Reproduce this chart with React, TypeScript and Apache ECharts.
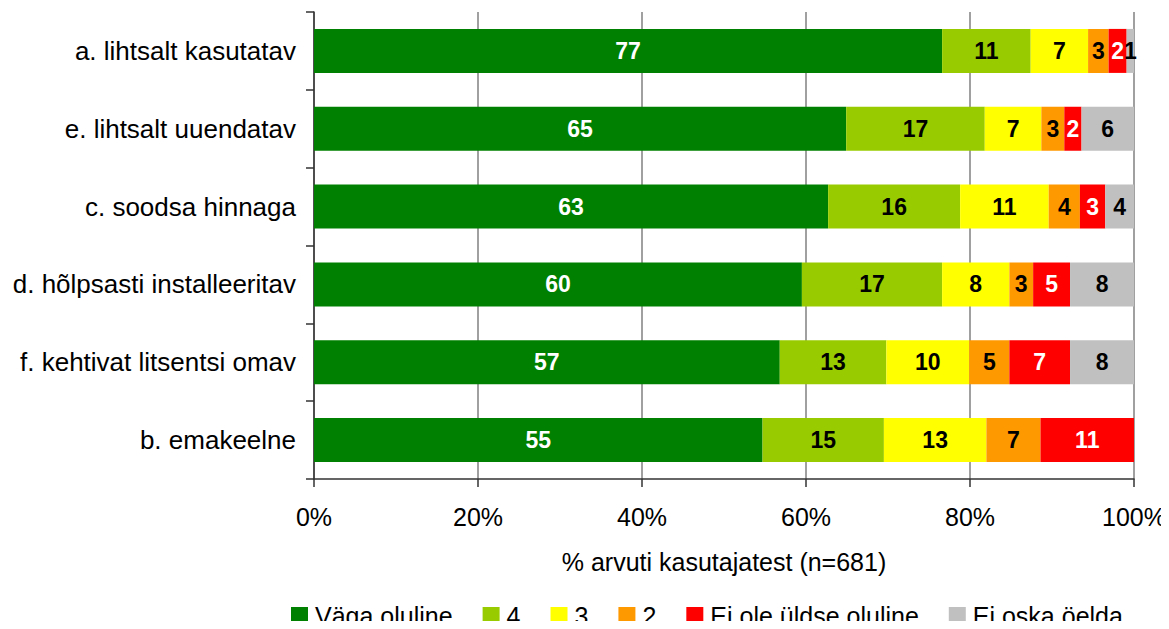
import React, { useEffect, useRef } from "react";
import * as echarts from "echarts";

const categories = [
  "a. lihtsalt kasutatav",
  "e. lihtsalt uuendatav",
  "c. soodsa hinnaga",
  "d. hõlpsasti installeeritav",
  "f. kehtivat litsentsi omav",
  "b. emakeelne",
];

const seriesNames = ["Väga oluline", "4", "3", "2", "Ei ole üldse oluline", "Ei oska öelda"];
const seriesColors = ["#008000", "#99CC00", "#FFFF00", "#FF9900", "#FF0000", "#C0C0C0"];
const labelColors = ["#FFFFFF", "#000000", "#000000", "#000000", "#FFFFFF", "#000000"];

const vagaOluline = [76.6, 64.9, 62.7, 59.5, 56.8, 54.7];
const hinne4 = [10.8, 16.9, 16.1, 17.1, 13.0, 14.8];
const hinne3 = [7.0, 6.9, 10.8, 8.2, 10.1, 12.5];
const hinne2 = [2.5, 2.8, 3.8, 2.9, 4.9, 6.6];
const eiOleOluline = [2.2, 2.1, 3.1, 4.5, 7.4, 11.4];
const eiOskaOelda = [0.9, 6.4, 3.5, 7.8, 7.8, 0];

const seriesValues = [vagaOluline, hinne4, hinne3, hinne2, eiOleOluline, eiOskaOelda];

const xTicks = [0, 20, 40, 60, 80, 100];

const FONT = "'Liberation Sans', Arial, Helvetica, sans-serif";

export default function App() {
  const ref = useRef<HTMLDivElement>(null);

  useEffect(() => {
    if (!ref.current) return;
    const chart = echarts.init(ref.current, null, { renderer: "svg" });
    chart.setOption({
      animation: false,
      textStyle: { fontFamily: FONT },
      grid: { left: 314, right: 35, top: 12, bottom: 150, containLabel: false },
      legend: {
        left: 291,
        top: 603,
        padding: 0,
        itemGap: 30,
        itemWidth: 17,
        itemHeight: 17,
        icon: "rect",
        textStyle: { fontSize: 25, color: "#000", fontFamily: FONT, padding: [0, 0, 0, 2] },
        data: seriesNames,
      },
      xAxis: {
        type: "value",
        min: xTicks[0],
        max: xTicks[xTicks.length - 1],
        interval: 20,
        name: "% arvuti kasutajatest (n=681)",
        nameLocation: "middle",
        nameGap: 70,
        nameTextStyle: { fontSize: 25, color: "#000", fontFamily: FONT },
        axisLine: { show: true, lineStyle: { color: "#333", width: 1.5 } },
        axisTick: { show: true, length: 8, lineStyle: { color: "#333", width: 1.5 } },
        axisLabel: {
          formatter: "{value}%",
          fontSize: 25,
          color: "#000",
          margin: 25,
          fontFamily: FONT,
        },
        splitLine: { show: true, lineStyle: { color: "#808080", width: 1.5 } },
      },
      yAxis: {
        type: "category",
        data: categories,
        inverse: true,
        axisLine: { show: true, lineStyle: { color: "#333", width: 1.5 } },
        axisTick: { show: true, length: 8, lineStyle: { color: "#333", width: 1.5 } },
        axisLabel: { fontSize: 26, color: "#000", margin: 18, fontFamily: FONT },
        splitLine: { show: false },
      },
      series: seriesNames.map((name, i) => ({
        name,
        type: "bar",
        stack: "total",
        barWidth: 44,
        itemStyle: { color: seriesColors[i] },
        label: {
          show: true,
          position: "inside",
          fontSize: 23,
          fontWeight: "bold",
          fontFamily: FONT,
          color: labelColors[i],
          formatter: (p: any) => (p.value > 0 ? String(Math.round(p.value)) : ""),
        },
        data: seriesValues[i],
      })),
    });
    return () => chart.dispose();
  }, []);

  return <div ref={ref} style={{ width: 1169, height: 629, margin: -8 }} />;
}
